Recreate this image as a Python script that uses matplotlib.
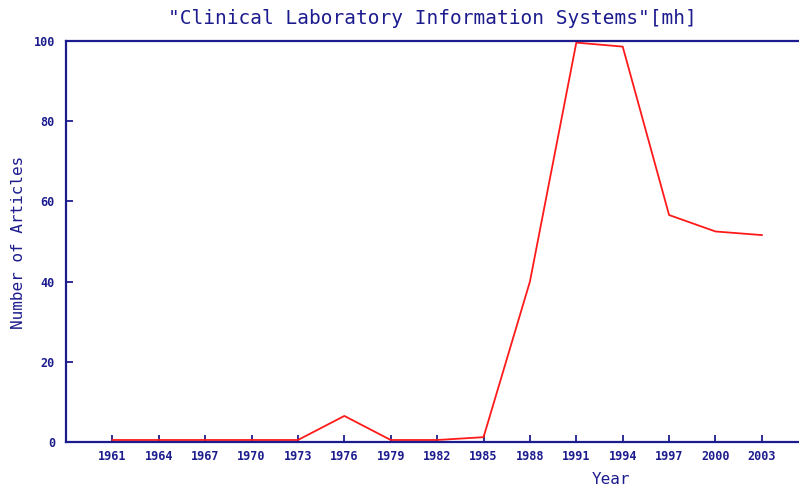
import matplotlib
matplotlib.use('Agg')
import matplotlib.pyplot as plt

NAVY = '#1c1c8e'
MONO = 'DejaVu Sans Mono'

years = [1961, 1964, 1967, 1970, 1973, 1976, 1979, 1982, 1985,
         1988, 1991, 1994, 1997, 2000, 2003]
articles = [0.5, 0.5, 0.5, 0.5, 0.5, 6.5, 0.5, 0.5, 1.2,
            40, 99.6, 98.6, 56.6, 52.5, 51.6]
yticks = [0, 20, 40, 60, 80, 100]

fig = plt.figure(figsize=(7.99, 4.88), dpi=100)
ax = fig.add_axes([66/799, 1 - 442/488, 1 - 66/799, (442 - 41)/488])

ax.plot(years, articles, color='#ff1a1a', lw=1.3, clip_on=False)

ax.set_xlim(1958, 2005.4)
ax.set_ylim(0, 100)
ax.set_xticks(years)
ax.set_xticklabels([str(y) for y in years])
ax.set_yticks(yticks)

for side in ['left', 'bottom', 'top']:
	ax.spines[side].set_color(NAVY)
	ax.spines[side].set_linewidth(1.6)
ax.spines['right'].set_visible(False)

ax.tick_params(axis='both', direction='in', length=5, width=1.3, color=NAVY,
	labelcolor=NAVY, labelsize=8.5)
ax.tick_params(axis='x', pad=6)
ax.tick_params(axis='y', pad=8)
for lbl in ax.get_xticklabels() + ax.get_yticklabels():
	lbl.set_family(MONO)
	lbl.set_fontweight('bold')

ax.set_title('"Clinical Laboratory Information Systems"[mh]', family=MONO,
	fontsize=14, color=NAVY, pad=12)
# x label sits right of centre in the original
fig.text(611/799, 1 - 480/488, 'Year', family=MONO, fontsize=11.5, color=NAVY,
	ha='center', va='center')
fig.text(19/799, 1 - 242/488, 'Number of Articles', family=MONO, fontsize=11.5,
	color=NAVY, rotation=90, ha='center', va='center')

fig.savefig('out.png', dpi=100)
